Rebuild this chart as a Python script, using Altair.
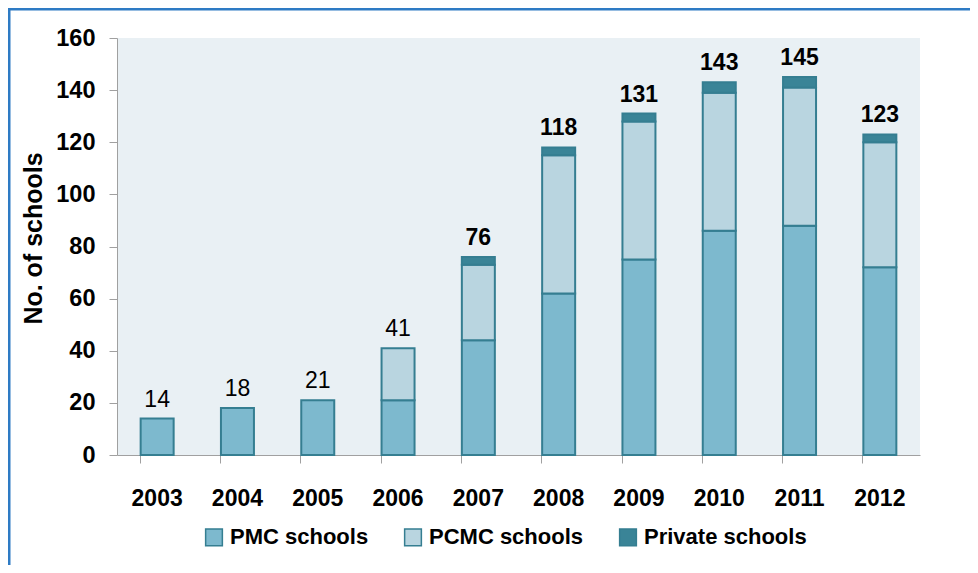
import altair as alt
import pandas as pd

years = ["2003", "2004", "2005", "2006", "2007", "2008", "2009", "2010", "2011", "2012"]
pmc = [14, 18, 21, 21, 44, 62, 75, 86, 88, 72]
pcmc = [0, 0, 0, 20, 29, 53, 53, 53, 53, 48]
private = [0, 0, 0, 0, 3, 3, 3, 4, 4, 3]
series = ["PMC schools", "PCMC schools", "Private schools"]
colors = ["#7DB9CE", "#B9D5E0", "#3A8497"]
bold_years = ["2007", "2008", "2009", "2010", "2011", "2012"]

rows = []
for i, y in enumerate(years):
    for k, (name, vals) in enumerate(zip(series, [pmc, pcmc, private])):
        if vals[i] > 0:
            rows.append({"year": y, "series": name, "value": vals[i], "order": k})
df = pd.DataFrame(rows)
tot = pd.DataFrame({"year": years,
                    "total": [a + b + c for a, b, c in zip(pmc, pcmc, private)]})
tot["bold"] = tot["year"].isin(bold_years)

FONT = "Liberation Sans"

x = alt.X("year:N", sort=years, title=None,
          scale=alt.Scale(paddingInner=0.58, paddingOuter=0.29),
          axis=alt.Axis(labelAngle=0, bandPosition=0, tickSize=8, labelPadding=24,
                        labelFontSize=23, labelFontWeight="bold", labelFont=FONT,
                        labelColor="black", domainColor="#A0A0A0", tickColor="#A0A0A0"))

bars = alt.Chart(df).mark_bar(size=33, stroke="#357E91", strokeWidth=2).encode(
    x=x,
    y=alt.Y("value:Q", stack="zero",
            scale=alt.Scale(domain=[0, 160]),
            axis=alt.Axis(values=list(range(0, 161, 20)), grid=False, tickSize=8,
                          labelPadding=14, labelFontSize=23.5, labelFontWeight="bold",
                          labelFont=FONT, labelColor="black",
                          domainColor="#A0A0A0", tickColor="#A0A0A0",
                          title="No. of schools", titleFontSize=25, titleFont=FONT,
                          titleFontWeight="bold", titleColor="black",
                          titleX=-84, titleY=200, titleAngle=-90,
                          titleAlign="center", titleBaseline="middle")),
    color=alt.Color("series:N", sort=series,
                    scale=alt.Scale(domain=series, range=colors),
                    legend=alt.Legend(title=None, orient="none", direction="horizontal",
                                      legendX=86, legendY=488, symbolType="square",
                                      symbolSize=280, symbolStrokeColor="#357E91",
                                      symbolStrokeWidth=1.5, labelFontSize=22,
                                      labelFontWeight="bold", labelFont=FONT,
                                      labelColor="black", columnPadding=32,
                                      labelOffset=5, labelLimit=400)),
    order=alt.Order("order:Q"),
)

txt_norm = alt.Chart(tot).transform_filter("!datum.bold").mark_text(
    baseline="bottom", dy=-7, fontSize=23, font=FONT, color="black").encode(
    x=alt.X("year:N", sort=years), y=alt.Y("total:Q"), text="total:Q")
txt_bold = alt.Chart(tot).transform_filter("datum.bold").mark_text(
    baseline="bottom", dy=-7, fontSize=23, font=FONT, fontWeight="bold", color="black").encode(
    x=alt.X("year:N", sort=years), y=alt.Y("total:Q"), text="total:Q")

frame_data = alt.Data(values=[{"a": 1}])
left_line = alt.Chart(frame_data).mark_rule(color="#2E7BC4", strokeWidth=3).encode(
    x=alt.value(-108), y=alt.value(-29), y2=alt.value(600))
top_line = alt.Chart(frame_data).mark_rule(color="#2E7BC4", strokeWidth=3).encode(
    x=alt.value(-109), x2=alt.value(900), y=alt.value(-29))

chart = alt.layer(bars, txt_norm, txt_bold, left_line, top_line).properties(
    width=803, height=417,
    autosize=alt.AutoSizeParams(type="none"),
    padding={"left": 109, "top": 30, "right": 50, "bottom": 110},
    background="white",
).configure_view(fill="#E9F0F4", strokeWidth=0)

chart.save("out.html", embed_options={"renderer": "svg", "actions": False})
